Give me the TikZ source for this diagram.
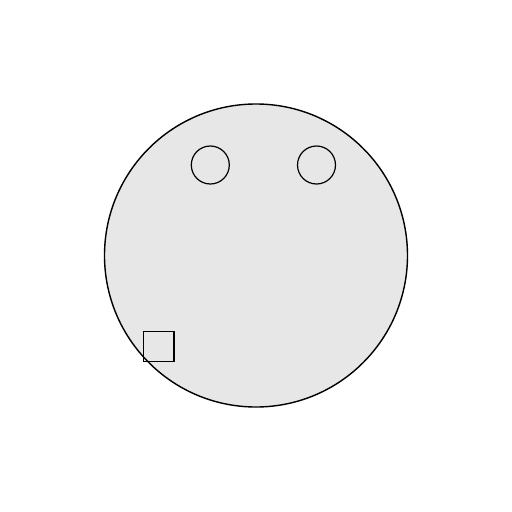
\documentclass[tikz,border=0pt]{standalone}
\begin{document}
\begin{tikzpicture}[x=1pt,y=-1pt,
  face/.style={circle,draw=black,line width=1.4pt,fill={rgb,255:red,231;green,231;blue,231},minimum size=303pt,inner sep=0pt},
  eye/.style={circle,draw=black,line width=1.2pt,minimum size=38pt,inner sep=0pt},
  box/.style={rectangle,draw=black,line width=1.2pt,minimum size=30.5pt,inner sep=0pt}]
\useasboundingbox (0,0) rectangle (512,512);
\node[face] (face) at (256,255.5) {};
\node[eye] (eyeL) at (210.3,165) {};
\node[eye] (eyeR) at (316.5,165) {};
\node[box] (sq) at (158.8,346.5) {};
\end{tikzpicture}
\end{document}
